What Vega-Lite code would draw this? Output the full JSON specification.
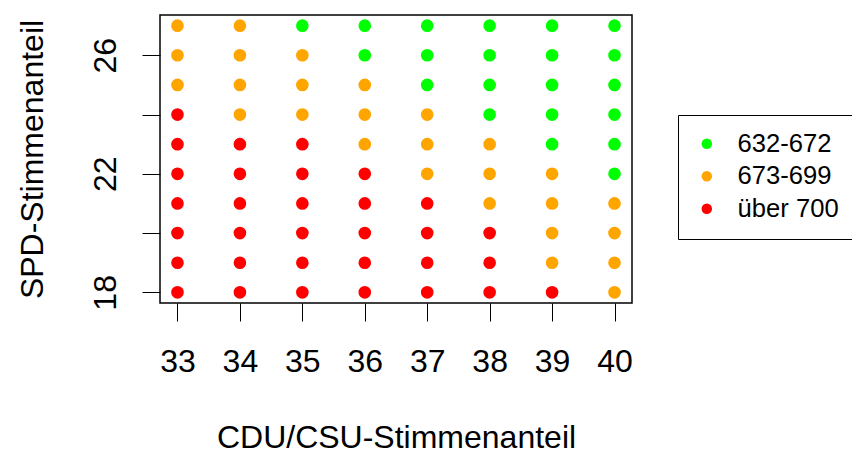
{
  "$schema": "https://vega.github.io/schema/vega-lite/v6.json",
  "autosize": "none",
  "width": 472,
  "height": 288,
  "padding": {"left": 160, "top": 15, "right": 220, "bottom": 149},
  "background": "white",
  "config": {
    "font": "Liberation Sans",
    "view": {"stroke": "black", "strokeWidth": 1.5},
    "axis": {
      "domain": false,
      "grid": false,
      "ticks": true,
      "tickColor": "black",
      "tickWidth": 1,
      "tickSize": 18,
      "labelColor": "black",
      "labelFont": "Liberation Sans",
      "labelFontSize": 32,
      "labelBaseline": "alphabetic",
      "titleColor": "black",
      "titleFont": "Liberation Sans",
      "titleFontSize": 32,
      "titleFontWeight": "normal",
      "titleBaseline": "alphabetic"
    }
  },
  "data": {
    "values": [
      {"cdu": 33, "spd": 27, "klasse": "673-699"},
      {"cdu": 33, "spd": 26, "klasse": "673-699"},
      {"cdu": 33, "spd": 25, "klasse": "673-699"},
      {"cdu": 33, "spd": 24, "klasse": "über 700"},
      {"cdu": 33, "spd": 23, "klasse": "über 700"},
      {"cdu": 33, "spd": 22, "klasse": "über 700"},
      {"cdu": 33, "spd": 21, "klasse": "über 700"},
      {"cdu": 33, "spd": 20, "klasse": "über 700"},
      {"cdu": 33, "spd": 19, "klasse": "über 700"},
      {"cdu": 33, "spd": 18, "klasse": "über 700"},
      {"cdu": 34, "spd": 27, "klasse": "673-699"},
      {"cdu": 34, "spd": 26, "klasse": "673-699"},
      {"cdu": 34, "spd": 25, "klasse": "673-699"},
      {"cdu": 34, "spd": 24, "klasse": "673-699"},
      {"cdu": 34, "spd": 23, "klasse": "über 700"},
      {"cdu": 34, "spd": 22, "klasse": "über 700"},
      {"cdu": 34, "spd": 21, "klasse": "über 700"},
      {"cdu": 34, "spd": 20, "klasse": "über 700"},
      {"cdu": 34, "spd": 19, "klasse": "über 700"},
      {"cdu": 34, "spd": 18, "klasse": "über 700"},
      {"cdu": 35, "spd": 27, "klasse": "632-672"},
      {"cdu": 35, "spd": 26, "klasse": "673-699"},
      {"cdu": 35, "spd": 25, "klasse": "673-699"},
      {"cdu": 35, "spd": 24, "klasse": "673-699"},
      {"cdu": 35, "spd": 23, "klasse": "über 700"},
      {"cdu": 35, "spd": 22, "klasse": "über 700"},
      {"cdu": 35, "spd": 21, "klasse": "über 700"},
      {"cdu": 35, "spd": 20, "klasse": "über 700"},
      {"cdu": 35, "spd": 19, "klasse": "über 700"},
      {"cdu": 35, "spd": 18, "klasse": "über 700"},
      {"cdu": 36, "spd": 27, "klasse": "632-672"},
      {"cdu": 36, "spd": 26, "klasse": "632-672"},
      {"cdu": 36, "spd": 25, "klasse": "673-699"},
      {"cdu": 36, "spd": 24, "klasse": "673-699"},
      {"cdu": 36, "spd": 23, "klasse": "673-699"},
      {"cdu": 36, "spd": 22, "klasse": "über 700"},
      {"cdu": 36, "spd": 21, "klasse": "über 700"},
      {"cdu": 36, "spd": 20, "klasse": "über 700"},
      {"cdu": 36, "spd": 19, "klasse": "über 700"},
      {"cdu": 36, "spd": 18, "klasse": "über 700"},
      {"cdu": 37, "spd": 27, "klasse": "632-672"},
      {"cdu": 37, "spd": 26, "klasse": "632-672"},
      {"cdu": 37, "spd": 25, "klasse": "632-672"},
      {"cdu": 37, "spd": 24, "klasse": "673-699"},
      {"cdu": 37, "spd": 23, "klasse": "673-699"},
      {"cdu": 37, "spd": 22, "klasse": "673-699"},
      {"cdu": 37, "spd": 21, "klasse": "über 700"},
      {"cdu": 37, "spd": 20, "klasse": "über 700"},
      {"cdu": 37, "spd": 19, "klasse": "über 700"},
      {"cdu": 37, "spd": 18, "klasse": "über 700"},
      {"cdu": 38, "spd": 27, "klasse": "632-672"},
      {"cdu": 38, "spd": 26, "klasse": "632-672"},
      {"cdu": 38, "spd": 25, "klasse": "632-672"},
      {"cdu": 38, "spd": 24, "klasse": "632-672"},
      {"cdu": 38, "spd": 23, "klasse": "673-699"},
      {"cdu": 38, "spd": 22, "klasse": "673-699"},
      {"cdu": 38, "spd": 21, "klasse": "673-699"},
      {"cdu": 38, "spd": 20, "klasse": "über 700"},
      {"cdu": 38, "spd": 19, "klasse": "über 700"},
      {"cdu": 38, "spd": 18, "klasse": "über 700"},
      {"cdu": 39, "spd": 27, "klasse": "632-672"},
      {"cdu": 39, "spd": 26, "klasse": "632-672"},
      {"cdu": 39, "spd": 25, "klasse": "632-672"},
      {"cdu": 39, "spd": 24, "klasse": "632-672"},
      {"cdu": 39, "spd": 23, "klasse": "632-672"},
      {"cdu": 39, "spd": 22, "klasse": "673-699"},
      {"cdu": 39, "spd": 21, "klasse": "673-699"},
      {"cdu": 39, "spd": 20, "klasse": "673-699"},
      {"cdu": 39, "spd": 19, "klasse": "673-699"},
      {"cdu": 39, "spd": 18, "klasse": "über 700"},
      {"cdu": 40, "spd": 27, "klasse": "632-672"},
      {"cdu": 40, "spd": 26, "klasse": "632-672"},
      {"cdu": 40, "spd": 25, "klasse": "632-672"},
      {"cdu": 40, "spd": 24, "klasse": "632-672"},
      {"cdu": 40, "spd": 23, "klasse": "632-672"},
      {"cdu": 40, "spd": 22, "klasse": "632-672"},
      {"cdu": 40, "spd": 21, "klasse": "673-699"},
      {"cdu": 40, "spd": 20, "klasse": "673-699"},
      {"cdu": 40, "spd": 19, "klasse": "673-699"},
      {"cdu": 40, "spd": 18, "klasse": "673-699"}
    ]
  },
  "mark": {"type": "point", "shape": "circle", "filled": true, "opacity": 1, "size": 160},
  "encoding": {
    "x": {
      "field": "cdu",
      "type": "quantitative",
      "scale": {"domain": [32.72, 40.28], "nice": false, "zero": false},
      "axis": {
        "title": "CDU/CSU-Stimmenanteil",
        "values": [33, 34, 35, 36, 37, 38, 39, 40],
        "labelPadding": 50,
        "labelFlush": false,
        "labelOverlap": false,
        "titleY": 144
      }
    },
    "y": {
      "field": "spd",
      "type": "quantitative",
      "scale": {"domain": [17.64, 27.36], "nice": false, "zero": false},
      "axis": {
        "title": "SPD-Stimmenanteil",
        "values": [18, 20, 22, 24, 26],
        "labelExpr": "datum.value % 4 == 2 ? datum.label : ''",
        "labelAngle": -90,
        "labelAlign": "center",
        "labelPadding": 27,
        "labelFlush": false,
        "labelOverlap": false,
        "titleAngle": -90,
        "titleX": -118,
        "titleY": 144,
        "titleAlign": "center"
      }
    },
    "color": {
      "field": "klasse",
      "type": "nominal",
      "scale": {
        "domain": ["632-672", "673-699", "über 700"],
        "range": ["#00FF00", "#FFA500", "#FF0000"]
      },
      "legend": {
        "title": null,
        "orient": "none",
        "legendX": 518,
        "legendY": 100,
        "padding": 16,
        "strokeColor": "black",
        "fillColor": "white",
        "symbolType": "circle",
        "symbolSize": 110,
        "symbolStrokeWidth": 0,
        "labelFont": "Liberation Sans",
        "labelFontSize": 25.6,
        "labelColor": "black",
        "labelOffset": 18,
        "rowPadding": 5.5
      }
    }
  }
}
